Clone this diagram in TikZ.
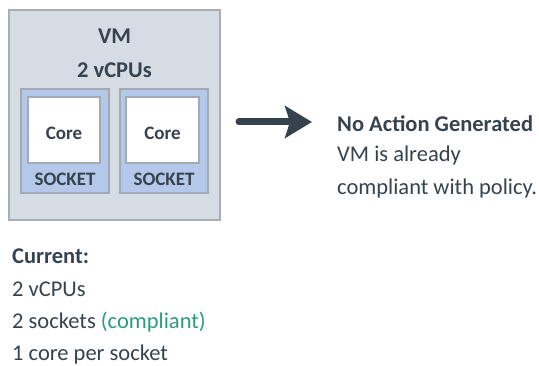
\documentclass[tikz,border=0pt]{standalone}
\usepackage{fontspec}
\setmainfont{Carlito}
\usetikzlibrary{arrows.meta}
\definecolor{VMFill}{HTML}{D6DCE4}
\definecolor{VMLine}{HTML}{A9AEB3}
\definecolor{SockFill}{HTML}{B4C9EA}
\definecolor{SockLine}{HTML}{A3AAB3}
\definecolor{TxtDark}{HTML}{36434E}
\definecolor{OkGreen}{HTML}{2A9C7E}
\begin{document}
\begin{tikzpicture}[x=1pt,y=-1pt,font=\fontsize{22.5}{26}\selectfont,text=TxtDark,
  boxline/.style={line width=1.2pt},
  lbl/.style={inner sep=0pt,anchor=center},
  txt/.style={inner sep=0pt,anchor=west}]
\path[use as bounding box] (0,0) rectangle (539,366);
% VM box
\filldraw[VMFill,draw=VMLine,boxline] (9,10) rectangle (220,220);
\node[lbl,font=\fontsize{22.5}{26}\bfseries] (vm) at (114.5,36) {VM};
\node[lbl,font=\fontsize{22.5}{26}\bfseries] (vcpus) at (114.5,70) {2 vCPUs};
% sockets
\filldraw[SockFill,draw=SockLine,boxline] (21,89) rectangle (109,193);
\filldraw[white,draw=SockLine,boxline] (28,97) rectangle (100,163);
\node[lbl,font=\fontsize{19}{22}\bfseries] (core1) at (64,133) {Core};
\node[lbl,font=\fontsize{19}{22}\bfseries] (sock1) at (65,179) {SOCKET};
\filldraw[SockFill,draw=SockLine,boxline] (120,89) rectangle (208,193);
\filldraw[white,draw=SockLine,boxline] (126,97) rectangle (199,163);
\node[lbl,font=\fontsize{19}{22}\bfseries] (core2) at (162.5,133) {Core};
\node[lbl,font=\fontsize{19}{22}\bfseries] (sock2) at (164,179) {SOCKET};
% arrow
\coordinate (arrS) at (239,122);
\coordinate (arrE) at (312,122);
\draw[TxtDark,line width=7pt,line cap=round,-{Stealth[length=27pt,width=32pt,inset=5pt]}] (arrS) -- (arrE);
% result
\node[txt,font=\fontsize{22.5}{26}\bfseries] (noact) at (337,124) {No Action Generated};
\node[txt] (already) at (337,156) {VM is already};
\node[txt] (policy) at (337,189) {compliant with policy.};
% current state
\node[txt,font=\fontsize{22.5}{26}\bfseries] (current) at (12,256) {Current:};
\node[txt] (curcpu) at (12,289) {2 vCPUs};
\node[txt] (cursock) at (12,322) {2 sockets \textcolor{OkGreen}{(compliant)}};
\node[txt] (curcore) at (12,355) {1 core per socket};
\end{tikzpicture}
\end{document}
